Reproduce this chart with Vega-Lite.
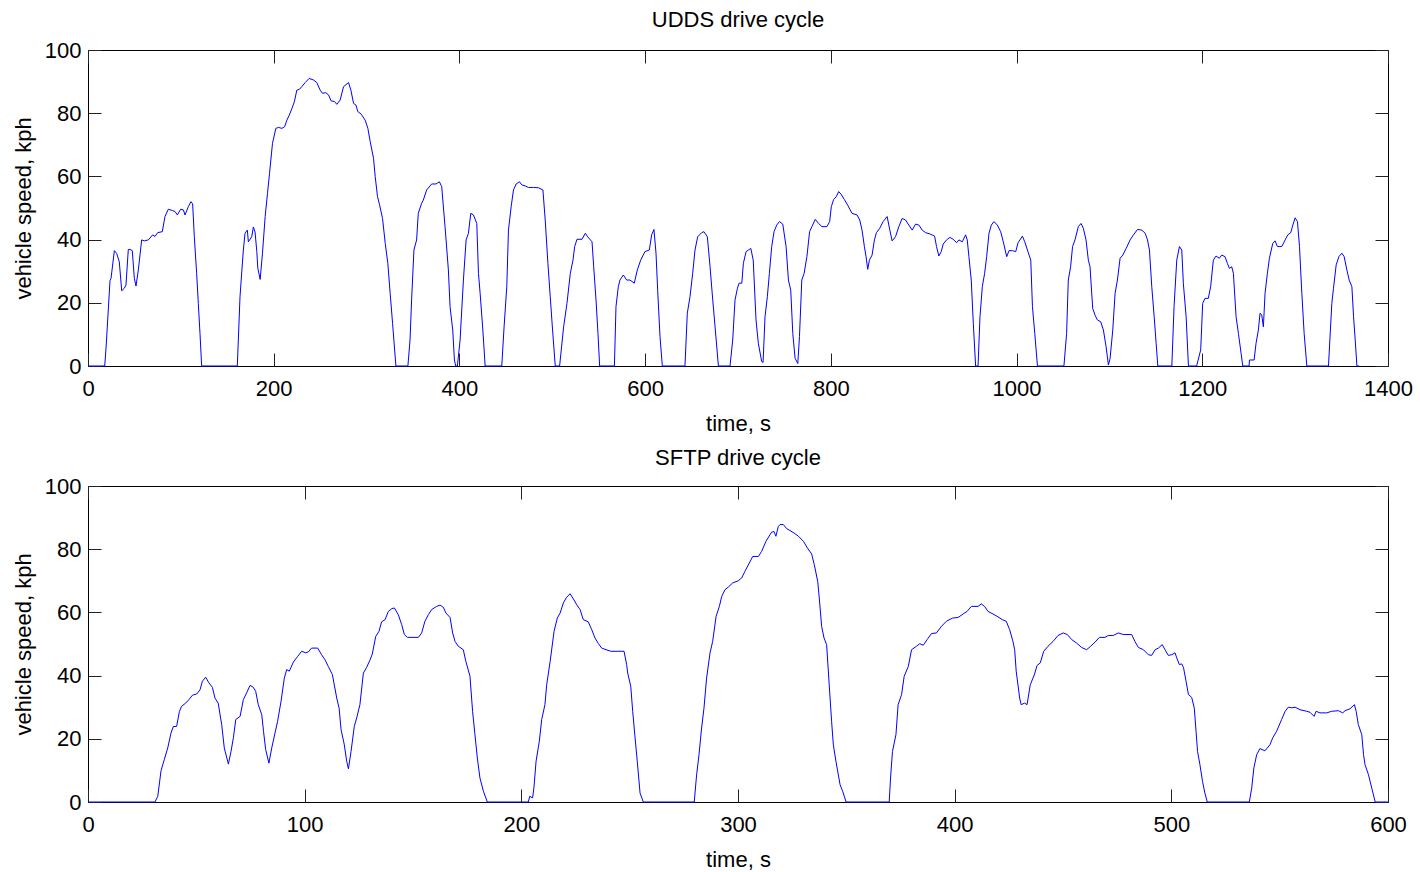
{
  "$schema": "https://vega.github.io/schema/vega-lite/v6.json",
  "padding": {"left": 11, "top": 8, "right": 5, "bottom": 0},
  "background": "white",
  "datasets": {
    "udds": [
      {"t":0,"v":0},{"t":18,"v":0},{"t":19.5,"v":6},{"t":23.7,"v":27},{"t":24.8,"v":27.7},{"t":28.4,"v":36.5},{"t":30.9,"v":35.6},{"t":33.7,"v":33},{"t":36.3,"v":23.8},{"t":39.1,"v":24.6},{"t":40.9,"v":25.6},{"t":43.4,"v":36.9},{"t":45.2,"v":36.9},{"t":47.7,"v":36.5},{"t":49.9,"v":27.7},{"t":51.7,"v":25.3},{"t":54.2,"v":30.4},{"t":57.8,"v":39.9},{"t":60.7,"v":39.6},{"t":65,"v":39.9},{"t":69.6,"v":41.5},{"t":72.2,"v":41},{"t":75,"v":42.2},{"t":80,"v":42.5},{"t":82.9,"v":47.3},{"t":86.5,"v":49.6},{"t":90.8,"v":49.2},{"t":93.7,"v":48.9},{"t":96.2,"v":47.8},{"t":99.8,"v":49.6},{"t":102.7,"v":49.4},{"t":104.5,"v":47.8},{"t":108,"v":50.4},{"t":110.9,"v":52},{"t":112.7,"v":51.3},{"t":114.5,"v":40.9},{"t":117,"v":29.3},{"t":118.8,"v":19.8},{"t":120.6,"v":10.3},{"t":122.4,"v":0},
      {"t":160.8,"v":0},{"t":163.7,"v":21.9},{"t":167.3,"v":36.7},{"t":169.1,"v":42},{"t":171.6,"v":43},{"t":172.7,"v":39.3},{"t":176.3,"v":40.9},{"t":178.1,"v":44},{"t":179.9,"v":42.4},{"t":181.8,"v":36.2},{"t":182.9,"v":30.9},{"t":185.4,"v":27.4},{"t":187.9,"v":35.7},{"t":190.8,"v":47.3},{"t":193.3,"v":54.6},{"t":195.5,"v":61},{"t":198.7,"v":70.5},{"t":202.3,"v":75.2},{"t":205.2,"v":75.5},{"t":208.8,"v":75.2},{"t":211.7,"v":75.7},{"t":214.2,"v":77.8},{"t":216.8,"v":79.4},{"t":219.6,"v":81.5},{"t":222.2,"v":83.6},{"t":224.9,"v":87.3},{"t":227.8,"v":87.6},{"t":230.3,"v":88.4},{"t":233.9,"v":89.7},{"t":238.2,"v":91},{"t":242.9,"v":90.5},{"t":246.4,"v":89.7},{"t":250,"v":87.3},{"t":252.5,"v":86.3},{"t":256.1,"v":86.5},{"t":259,"v":85.8},{"t":261.8,"v":83.9},{"t":265.4,"v":83.7},{"t":268,"v":82.8},{"t":271.6,"v":84.2},{"t":275.2,"v":88.4},{"t":280.6,"v":89.7},{"t":283.1,"v":87.3},{"t":286,"v":83.1},{"t":288.5,"v":82.6},{"t":290.6,"v":80.5},{"t":294.2,"v":79.7},{"t":298.5,"v":77.8},{"t":301.4,"v":75.2},{"t":303.9,"v":71},{"t":307.5,"v":65.7},{"t":309.3,"v":59.9},{"t":311.8,"v":53.6},{"t":314,"v":51},{"t":317.2,"v":46.7},{"t":320.1,"v":38.8},{"t":322.9,"v":32.5},{"t":325.4,"v":23},{"t":328,"v":13.5},{"t":331.6,"v":0},
      {"t":344.5,"v":0},{"t":346.8,"v":8.2},{"t":348.5,"v":20.9},{"t":351,"v":36.7},{"t":353.9,"v":39.9},{"t":355.7,"v":48.3},{"t":359.3,"v":51.5},{"t":361.1,"v":52.5},{"t":364.7,"v":55.7},{"t":370.1,"v":57.6},{"t":374.8,"v":57.6},{"t":378.4,"v":58.3},{"t":380.9,"v":56.8},{"t":384.5,"v":44.1},{"t":388.1,"v":30.4},{"t":389.9,"v":18.8},{"t":392.8,"v":11.4},{"t":394.6,"v":1.9},{"t":396,"v":0},{"t":397.8,"v":0},{"t":400.7,"v":8.2},{"t":404.3,"v":27.2},{"t":407.2,"v":39.9},{"t":409.7,"v":42},{"t":412.2,"v":48.3},{"t":415.1,"v":47.8},{"t":418.7,"v":45.1},{"t":420.5,"v":29.3},{"t":422.3,"v":23},{"t":425.2,"v":11.4},{"t":427.7,"v":0},
      {"t":445.6,"v":0},{"t":448.1,"v":12.4},{"t":451,"v":25.1},{"t":452.8,"v":43},{"t":455.7,"v":50.4},{"t":458.2,"v":55.7},{"t":461.1,"v":57.6},{"t":464.7,"v":58.3},{"t":467.2,"v":57.3},{"t":470.8,"v":57},{"t":474.4,"v":56.5},{"t":479.8,"v":56.5},{"t":485.2,"v":56.4},{"t":489.9,"v":55.7},{"t":492.4,"v":46.2},{"t":495.3,"v":32.5},{"t":497.8,"v":21.9},{"t":500.3,"v":11.4},{"t":503.2,"v":0},
      {"t":507.9,"v":0},{"t":512.2,"v":12.4},{"t":515.8,"v":19.8},{"t":519.4,"v":29.3},{"t":522.3,"v":33.5},{"t":524.1,"v":37.8},{"t":526.6,"v":40.1},{"t":532,"v":40.1},{"t":535.6,"v":42},{"t":538.1,"v":40.9},{"t":542.8,"v":39.3},{"t":544.6,"v":31.4},{"t":547.1,"v":20.9},{"t":549.2,"v":10.3},{"t":551,"v":0},
      {"t":566.9,"v":0},{"t":568.6,"v":18.8},{"t":571.1,"v":25.1},{"t":572.9,"v":27.2},{"t":576.5,"v":28.8},{"t":580.1,"v":27.2},{"t":583.7,"v":27.2},{"t":588.3,"v":26.2},{"t":591.6,"v":30.4},{"t":595.2,"v":33.5},{"t":599.8,"v":36.2},{"t":604.5,"v":36.7},{"t":607,"v":41.5},{"t":609.5,"v":43.2},{"t":611.7,"v":35.7},{"t":613.5,"v":24},{"t":616,"v":9.3},{"t":618.5,"v":0},
      {"t":642.9,"v":0},{"t":645.4,"v":16.7},{"t":648.3,"v":21.9},{"t":651.2,"v":29.3},{"t":653.7,"v":36.7},{"t":656.6,"v":40.9},{"t":660.9,"v":42.2},{"t":663.4,"v":42.5},{"t":667,"v":40.9},{"t":669.9,"v":31.4},{"t":672.8,"v":20.9},{"t":675.3,"v":12.4},{"t":678.9,"v":0},
      {"t":691.4,"v":0},{"t":694.3,"v":8.2},{"t":696.8,"v":20.9},{"t":699.4,"v":24.6},{"t":701.2,"v":26.2},{"t":704.1,"v":26.2},{"t":705.8,"v":32.5},{"t":708.7,"v":36.2},{"t":711.2,"v":36.7},{"t":713.8,"v":37.2},{"t":716.4,"v":33.5},{"t":719.4,"v":14.6},{"t":721.9,"v":7.2},{"t":725.5,"v":1.4},{"t":727,"v":1.1},{"t":729.1,"v":15.6},{"t":731.6,"v":21.9},{"t":733.8,"v":29.3},{"t":736.3,"v":37.8},{"t":738.8,"v":42.5},{"t":741.7,"v":44.6},{"t":744.6,"v":45.7},{"t":748.2,"v":44.9},{"t":751.8,"v":37.8},{"t":754.3,"v":27.2},{"t":756.8,"v":24},{"t":759,"v":10.3},{"t":761.5,"v":2.4},{"t":764.4,"v":0.8},{"t":766.2,"v":9.3},{"t":768.7,"v":27.2},{"t":771.2,"v":29.3},{"t":774.2,"v":34.6},{"t":777.1,"v":42.5},{"t":779.6,"v":44.1},{"t":783.2,"v":46.4},{"t":786.8,"v":45.1},{"t":790.4,"v":44.1},{"t":795.8,"v":44.1},{"t":798.7,"v":45.7},{"t":800.5,"v":50.4},{"t":803,"v":52.7},{"t":805.9,"v":53.6},{"t":808.4,"v":55.2},{"t":810.9,"v":54.4},{"t":814.5,"v":52.7},{"t":818.1,"v":50.9},{"t":822.8,"v":48.3},{"t":828.2,"v":47.8},{"t":831.1,"v":46.2},{"t":833.6,"v":43},{"t":836.1,"v":37.8},{"t":837.9,"v":34.6},{"t":839.7,"v":30.6},{"t":841.5,"v":33.5},{"t":844.4,"v":35.1},{"t":846.9,"v":39.9},{"t":849.1,"v":42.2},{"t":852.7,"v":43.6},{"t":856.3,"v":45.7},{"t":860.6,"v":47.3},{"t":863.5,"v":43},{"t":866,"v":39.6},{"t":869.6,"v":40.9},{"t":873.2,"v":44.1},{"t":876.8,"v":46.7},{"t":880.4,"v":46.2},{"t":884,"v":44.6},{"t":887.6,"v":43},{"t":891.2,"v":44.9},{"t":894.8,"v":44.6},{"t":898.4,"v":43},{"t":902,"v":42.2},{"t":906.6,"v":41.8},{"t":911.7,"v":41.1},{"t":913.8,"v":37.8},{"t":916.3,"v":34.8},{"t":918.9,"v":36.2},{"t":921,"v":38.6},{"t":924.6,"v":39.9},{"t":928.2,"v":40.7},{"t":931.8,"v":40.1},{"t":935.4,"v":39},{"t":937.9,"v":39.9},{"t":941.5,"v":39.3},{"t":945.1,"v":41.5},{"t":946.9,"v":39.9},{"t":948.7,"v":34.6},{"t":951.2,"v":27.2},{"t":953.4,"v":13.5},{"t":955.9,"v":0},{"t":958.5,"v":0},{"t":960.6,"v":15.6},{"t":963.1,"v":25.1},{"t":965.6,"v":29.3},{"t":967.8,"v":34.6},{"t":970.3,"v":42},{"t":972.8,"v":44.6},{"t":975.7,"v":45.7},{"t":979.3,"v":44.6},{"t":982.9,"v":42.5},{"t":985.7,"v":39.3},{"t":989.4,"v":34.6},{"t":991.9,"v":36.5},{"t":995.5,"v":36.5},{"t":999.1,"v":36.2},{"t":1001.6,"v":39},{"t":1006.3,"v":41.1},{"t":1008.8,"v":39.3},{"t":1011.7,"v":36.7},{"t":1015.3,"v":33.5},{"t":1017.1,"v":18.8},{"t":1019.6,"v":10.3},{"t":1022.5,"v":0},
      {"t":1051,"v":0},{"t":1053.9,"v":10.3},{"t":1055.7,"v":27.2},{"t":1058.2,"v":31.4},{"t":1060.3,"v":37.8},{"t":1062.9,"v":39.9},{"t":1066.5,"v":44.1},{"t":1069.4,"v":45.1},{"t":1071.9,"v":43.6},{"t":1074.8,"v":39.9},{"t":1077.3,"v":33.5},{"t":1079.1,"v":31.4},{"t":1082,"v":18.2},{"t":1084.5,"v":16.1},{"t":1087,"v":14.6},{"t":1090.6,"v":14},{"t":1093.5,"v":11.4},{"t":1096.4,"v":6.1},{"t":1098.9,"v":0.3},{"t":1100.7,"v":2.4},{"t":1103.6,"v":11.4},{"t":1106.1,"v":23},{"t":1108.6,"v":27.2},{"t":1111.5,"v":34.1},{"t":1114.4,"v":35.1},{"t":1118,"v":37.2},{"t":1122.3,"v":39.9},{"t":1125.9,"v":41.5},{"t":1130.2,"v":43.2},{"t":1134.9,"v":43},{"t":1138.5,"v":42},{"t":1141,"v":39.9},{"t":1143.1,"v":36.7},{"t":1145.6,"v":25.1},{"t":1148.2,"v":15.6},{"t":1150.3,"v":7.2},{"t":1152.1,"v":0},
      {"t":1167.2,"v":0},{"t":1169.6,"v":18.8},{"t":1172.5,"v":33.5},{"t":1175.4,"v":37.8},{"t":1177.9,"v":36.7},{"t":1179.6,"v":26.2},{"t":1182.6,"v":15.6},{"t":1185.1,"v":0},
      {"t":1193.9,"v":0},{"t":1198.3,"v":5.1},{"t":1200.4,"v":19.8},{"t":1202.9,"v":21.4},{"t":1206.5,"v":21.4},{"t":1209,"v":25.1},{"t":1211.9,"v":33.5},{"t":1214.8,"v":34.8},{"t":1218.4,"v":34.1},{"t":1220.9,"v":35.1},{"t":1224.5,"v":34.6},{"t":1227,"v":32.5},{"t":1229.2,"v":30.9},{"t":1231.7,"v":31.4},{"t":1233.5,"v":29.3},{"t":1236.4,"v":15.6},{"t":1238.9,"v":10.3},{"t":1241.8,"v":4},{"t":1243.6,"v":0},
      {"t":1250.4,"v":0},{"t":1250.8,"v":1.9},{"t":1255.8,"v":1.9},{"t":1257.9,"v":7.2},{"t":1260.4,"v":11.4},{"t":1262.2,"v":16.7},{"t":1264,"v":16.2},{"t":1265.8,"v":12.4},{"t":1267.6,"v":23},{"t":1270.1,"v":29.3},{"t":1272.3,"v":34.1},{"t":1275.9,"v":38.8},{"t":1278.4,"v":39.6},{"t":1280.9,"v":37.8},{"t":1285.6,"v":37.8},{"t":1289.2,"v":39.9},{"t":1292.1,"v":41.5},{"t":1295.3,"v":42.2},{"t":1297.5,"v":44.6},{"t":1300,"v":46.9},{"t":1302.5,"v":45.7},{"t":1304.7,"v":37.8},{"t":1307.2,"v":23},{"t":1309.7,"v":10.3},{"t":1312.6,"v":0},
      {"t":1335.9,"v":0},{"t":1339.5,"v":19.8},{"t":1341.3,"v":24.6},{"t":1344.2,"v":32},{"t":1347.1,"v":34.6},{"t":1350.3,"v":35.7},{"t":1352.8,"v":34.6},{"t":1355.7,"v":30.4},{"t":1358.2,"v":27.2},{"t":1361.1,"v":25.1},{"t":1362.9,"v":15.6},{"t":1364.7,"v":8.2},{"t":1366.5,"v":0},{"t":1369,"v":0}
    ],
    "sftp": [
      {"t":0,"v":0},{"t":30.9,"v":0},{"t":32.2,"v":1.8},{"t":33.7,"v":9.9},{"t":35.2,"v":13.4},{"t":36.8,"v":17.1},{"t":38.3,"v":21.8},{"t":39.4,"v":23.9},{"t":40.9,"v":23.9},{"t":42.2,"v":28.7},{"t":43.2,"v":30.3},{"t":45.1,"v":31.3},{"t":46.6,"v":32.4},{"t":48.2,"v":33.8},{"t":50.2,"v":34.2},{"t":51.7,"v":35.5},{"t":52.8,"v":38.2},{"t":54.3,"v":39.5},{"t":55.8,"v":37.7},{"t":57.4,"v":36.3},{"t":58.6,"v":32.9},{"t":60.1,"v":31.3},{"t":61.7,"v":24.5},{"t":62.9,"v":17.1},{"t":64.8,"v":12},{"t":66,"v":16},{"t":67.1,"v":20.3},{"t":68.2,"v":26.1},{"t":70.2,"v":27.1},{"t":71.7,"v":32.4},{"t":73.2,"v":34.5},{"t":74.8,"v":36.9},{"t":76.3,"v":36.3},{"t":77.4,"v":35},{"t":78.6,"v":30.8},{"t":80.2,"v":27.6},{"t":81,"v":22.4},{"t":82,"v":16.6},{"t":83.5,"v":12.3},{"t":84.8,"v":17.1},{"t":86.3,"v":21.8},{"t":87.5,"v":25.5},{"t":89.1,"v":31.9},{"t":90.6,"v":39.2},{"t":91.7,"v":41.9},{"t":92.9,"v":41.4},{"t":94.8,"v":44.3},{"t":96.8,"v":46.1},{"t":98.6,"v":47.7},{"t":100.5,"v":47.2},{"t":101.7,"v":47.5},{"t":103.2,"v":48.7},{"t":106,"v":48.7},{"t":107.8,"v":46.6},{"t":109.4,"v":45},{"t":110.9,"v":42.9},{"t":112.8,"v":40.3},{"t":114.8,"v":32.9},{"t":115.9,"v":29.7},{"t":116.8,"v":22.9},{"t":118.3,"v":18.1},{"t":119.4,"v":12.9},{"t":120.2,"v":10.5},{"t":121.4,"v":16},{"t":122.9,"v":23.9},{"t":124,"v":26.6},{"t":125.5,"v":30.8},{"t":127.1,"v":40.8},{"t":128.6,"v":42.6},{"t":130.2,"v":45},{"t":131.2,"v":46.8},{"t":132.8,"v":52.4},{"t":134.3,"v":54},{"t":135.5,"v":57},{"t":137.1,"v":57.7},{"t":138.6,"v":60.3},{"t":140.2,"v":61.2},{"t":141.4,"v":61.4},{"t":143.2,"v":59.3},{"t":144.8,"v":56.1},{"t":146,"v":53},{"t":147.4,"v":52.1},{"t":152.5,"v":52.1},{"t":154,"v":53.5},{"t":155.5,"v":57.2},{"t":157.1,"v":59.3},{"t":158.6,"v":60.9},{"t":160.9,"v":61.9},{"t":162.5,"v":62.3},{"t":164,"v":61.6},{"t":165.2,"v":59.8},{"t":167.1,"v":58.4},{"t":168.3,"v":53.5},{"t":169.4,"v":50.8},{"t":170.9,"v":49.3},{"t":173.2,"v":48.2},{"t":174.4,"v":44.5},{"t":176.3,"v":39.8},{"t":177.5,"v":28.7},{"t":178.6,"v":21.3},{"t":179.7,"v":13.9},{"t":180.9,"v":7.6},{"t":182.5,"v":3.4},{"t":184.3,"v":0},
      {"t":203.2,"v":0},{"t":203.9,"v":1.8},{"t":205.2,"v":1.3},{"t":205.8,"v":4.4},{"t":206.8,"v":12.9},{"t":208.3,"v":19.2},{"t":209.4,"v":26.1},{"t":210.9,"v":30.8},{"t":211.7,"v":37.1},{"t":213.3,"v":44.5},{"t":215.1,"v":54},{"t":216.6,"v":58.2},{"t":217.9,"v":59.8},{"t":219.4,"v":63},{"t":220.9,"v":64.8},{"t":222.5,"v":65.9},{"t":224,"v":64.3},{"t":225.6,"v":62.4},{"t":227.1,"v":60.9},{"t":228.6,"v":57.7},{"t":230.9,"v":57},{"t":232.5,"v":54.5},{"t":234,"v":51.9},{"t":235.6,"v":50.1},{"t":237.1,"v":48.7},{"t":239.1,"v":48.2},{"t":241.3,"v":47.7},{"t":247.4,"v":47.7},{"t":248.6,"v":43.5},{"t":249.1,"v":40.8},{"t":250.5,"v":36.6},{"t":251.4,"v":28.7},{"t":252.5,"v":20.3},{"t":253.5,"v":12.9},{"t":254.8,"v":2.8},{"t":256.3,"v":0},
      {"t":279.8,"v":0},{"t":280.9,"v":8.6},{"t":282,"v":15},{"t":283.2,"v":23.4},{"t":284.3,"v":29.7},{"t":285.5,"v":39.2},{"t":287.1,"v":47.2},{"t":288.3,"v":50.8},{"t":289.9,"v":58.8},{"t":291.4,"v":61.9},{"t":292.5,"v":65.1},{"t":294,"v":67.2},{"t":295.5,"v":68},{"t":297.5,"v":69.3},{"t":300.1,"v":70},{"t":301.7,"v":70.9},{"t":303.2,"v":73},{"t":305.2,"v":75.6},{"t":306.8,"v":77.7},{"t":309.4,"v":77.7},{"t":310.9,"v":79.3},{"t":312.9,"v":82.5},{"t":314.8,"v":84.6},{"t":315.5,"v":85.4},{"t":316.6,"v":85.6},{"t":317.5,"v":84.1},{"t":318.6,"v":87.2},{"t":319.4,"v":87.8},{"t":320.9,"v":87.8},{"t":322.5,"v":86.5},{"t":324,"v":85.9},{"t":325.9,"v":85.1},{"t":327.9,"v":84.1},{"t":330.2,"v":82.5},{"t":332,"v":80.4},{"t":334,"v":78.5},{"t":335.2,"v":75.1},{"t":336.8,"v":69.8},{"t":337.5,"v":64.6},{"t":338.6,"v":55.6},{"t":339.7,"v":51.9},{"t":340.9,"v":49.8},{"t":342.1,"v":37.1},{"t":343.2,"v":25.5},{"t":344,"v":18.1},{"t":345.2,"v":12.9},{"t":347.1,"v":5.5},{"t":348.3,"v":3.4},{"t":349.9,"v":0},
      {"t":369.8,"v":0},{"t":370.4,"v":7.6},{"t":371.3,"v":16},{"t":372.9,"v":21.3},{"t":373.9,"v":30.8},{"t":375.5,"v":34},{"t":376.7,"v":39.8},{"t":378.6,"v":42.9},{"t":380.1,"v":48.2},{"t":382.4,"v":49.3},{"t":383.9,"v":50.1},{"t":385.5,"v":49.6},{"t":387.3,"v":51.4},{"t":389.3,"v":53.3},{"t":391.6,"v":53.5},{"t":393.9,"v":55.6},{"t":396.2,"v":57.2},{"t":399,"v":58.2},{"t":401.6,"v":58.4},{"t":403.9,"v":59.5},{"t":405.7,"v":60.3},{"t":407.7,"v":61.9},{"t":410.8,"v":61.9},{"t":412.3,"v":62.7},{"t":413.8,"v":61.9},{"t":415.4,"v":60.3},{"t":417.7,"v":59.5},{"t":419.5,"v":58.8},{"t":422,"v":57.7},{"t":423.8,"v":57.2},{"t":425.4,"v":54.5},{"t":426.9,"v":50.8},{"t":427.7,"v":48.2},{"t":428.4,"v":41.4},{"t":430,"v":32.9},{"t":430.7,"v":30.8},{"t":432.3,"v":31.3},{"t":433.4,"v":30.8},{"t":434.9,"v":37.1},{"t":436.9,"v":40.5},{"t":438,"v":43.2},{"t":439.5,"v":44},{"t":441.1,"v":47.7},{"t":443.1,"v":49.3},{"t":445.4,"v":50.8},{"t":447.7,"v":52.7},{"t":450.1,"v":53.5},{"t":452,"v":53},{"t":454,"v":51.4},{"t":456.3,"v":50.3},{"t":458.6,"v":48.9},{"t":460.9,"v":48.2},{"t":462.8,"v":49.3},{"t":464.8,"v":50.6},{"t":466.8,"v":52.1},{"t":469.4,"v":52.1},{"t":470.9,"v":52.7},{"t":473.2,"v":52.7},{"t":475.5,"v":53.5},{"t":477.8,"v":53},{"t":481.7,"v":53},{"t":483.2,"v":50.8},{"t":484.8,"v":48.9},{"t":487.1,"v":48.2},{"t":489.4,"v":46.6},{"t":490.9,"v":46.4},{"t":492.5,"v":48.2},{"t":494,"v":48.7},{"t":495.8,"v":49.8},{"t":497.1,"v":48.2},{"t":498.6,"v":46.4},{"t":500.2,"v":46.6},{"t":501.7,"v":47.2},{"t":502.5,"v":45.6},{"t":503.7,"v":43.5},{"t":504.8,"v":43.7},{"t":505.6,"v":42.6},{"t":506.8,"v":38.2},{"t":507.9,"v":34},{"t":509.4,"v":33.1},{"t":510.6,"v":29.7},{"t":511.4,"v":22.4},{"t":512.1,"v":16},{"t":513.2,"v":11.8},{"t":514.4,"v":6.5},{"t":515.5,"v":2.8},{"t":516.6,"v":0},
      {"t":536,"v":0},{"t":537.1,"v":4.4},{"t":538.1,"v":10.8},{"t":539.4,"v":15},{"t":540.9,"v":16.9},{"t":543.2,"v":16.2},{"t":545.5,"v":18.1},{"t":546.8,"v":20.3},{"t":548.6,"v":22.4},{"t":550.9,"v":26.1},{"t":552.5,"v":28.7},{"t":554,"v":30},{"t":555.6,"v":29.8},{"t":557.1,"v":30},{"t":559.4,"v":29.2},{"t":562.5,"v":28.7},{"t":564,"v":28.4},{"t":565.9,"v":27.1},{"t":566.8,"v":28.7},{"t":568.6,"v":28.2},{"t":571.7,"v":28.2},{"t":574,"v":28.7},{"t":577.1,"v":28.9},{"t":579.1,"v":28.2},{"t":580.2,"v":28.9},{"t":582.5,"v":29.5},{"t":584.5,"v":30.8},{"t":585.3,"v":28.7},{"t":586.3,"v":24.5},{"t":587.9,"v":21.3},{"t":588.7,"v":15},{"t":589.4,"v":11.8},{"t":591,"v":8.6},{"t":592.5,"v":4.4},{"t":594.1,"v":0},{"t":600,"v":0}
    ]
  },
  "vconcat": [
    {
      "title": {"text": "UDDS drive cycle", "frame": "group", "offset": 7},
      "width": 1300,
      "height": 316,
      "data": {"name": "udds"},
      "layer": [
        {
          "mark": {"type": "line", "color": "#0000ff", "strokeWidth": 1},
          "encoding": {
            "x": {"field": "t", "type": "quantitative", "scale": {"domain": [0, 1400], "nice": false, "zero": false},
                  "axis": {"orient": "bottom", "values": [0, 200, 400, 600, 800, 1000, 1200, 1400], "format": "d", "labelPadding": 25, "title": "time, s", "titleY": 64, "titleBaseline": "alphabetic"}},
            "y": {"field": "v", "type": "quantitative", "scale": {"domain": [0, 100], "nice": false},
                  "axis": {"orient": "left", "values": [0, 20, 40, 60, 80, 100], "labelPadding": 20, "labelBaseline": "middle", "title": "vehicle speed, kph", "titleX": -58, "titleY": 158, "titleBaseline": "alphabetic", "titleAngle": 270}}
          }
        },
        {
          "mark": {"type": "line", "opacity": 0},
          "encoding": {
            "x": {"field": "t", "type": "quantitative", "scale": {"domain": [0, 1400], "nice": false, "zero": false},
                  "axis": {"orient": "top", "values": [0, 200, 400, 600, 800, 1000, 1200, 1400], "labels": false, "title": null, "minExtent": 0, "maxExtent": 0}},
            "y": {"field": "v", "type": "quantitative", "scale": {"domain": [0, 100], "nice": false},
                  "axis": {"orient": "right", "values": [0, 20, 40, 60, 80, 100], "labels": false, "title": null, "minExtent": 0, "maxExtent": 0}}
          }
        }
      ],
      "resolve": {"scale": {"x": "independent", "y": "independent"}, "axis": {"x": "independent", "y": "independent"}}
    },
    {
      "title": {"text": "SFTP drive cycle", "frame": "group", "offset": 5},
      "width": 1300,
      "height": 316,
      "data": {"name": "sftp"},
      "layer": [
        {
          "mark": {"type": "line", "color": "#0000ff", "strokeWidth": 1},
          "encoding": {
            "x": {"field": "t", "type": "quantitative", "scale": {"domain": [0, 600], "nice": false, "zero": false},
                  "axis": {"orient": "bottom", "values": [0, 100, 200, 300, 400, 500, 600], "format": "d", "labelPadding": 25, "title": "time, s", "titleY": 64, "titleBaseline": "alphabetic"}},
            "y": {"field": "v", "type": "quantitative", "scale": {"domain": [0, 100], "nice": false},
                  "axis": {"orient": "left", "values": [0, 20, 40, 60, 80, 100], "labelPadding": 20, "labelBaseline": "middle", "title": "vehicle speed, kph", "titleX": -58, "titleY": 158, "titleBaseline": "alphabetic", "titleAngle": 270}}
          }
        },
        {
          "mark": {"type": "line", "opacity": 0},
          "encoding": {
            "x": {"field": "t", "type": "quantitative", "scale": {"domain": [0, 600], "nice": false, "zero": false},
                  "axis": {"orient": "top", "values": [0, 100, 200, 300, 400, 500, 600], "labels": false, "title": null, "minExtent": 0, "maxExtent": 0}},
            "y": {"field": "v", "type": "quantitative", "scale": {"domain": [0, 100], "nice": false},
                  "axis": {"orient": "right", "values": [0, 20, 40, 60, 80, 100], "labels": false, "title": null, "minExtent": 0, "maxExtent": 0}}
          }
        }
      ],
      "resolve": {"scale": {"x": "independent", "y": "independent"}, "axis": {"x": "independent", "y": "independent"}}
    }
  ],
  "spacing": 11,
  "config": {
    "font": "Liberation Sans",
    "view": {"stroke": "black", "strokeWidth": 1},
    "axis": {"grid": false, "domain": false, "tickSize": -13, "tickColor": "#222222", "tickWidth": 1, "minExtent": 0,
             "labelFont": "Liberation Sans", "labelFontSize": 22, "labelColor": "black", "labelFlush": false, "labelOverlap": false,
             "titleFont": "Liberation Sans", "titleFontSize": 22, "titleFontWeight": "normal", "titleColor": "black"},
    "title": {"font": "Liberation Sans", "fontSize": 22, "fontWeight": "normal", "color": "black", "baseline": "alphabetic", "offset": 7}
  }
}
